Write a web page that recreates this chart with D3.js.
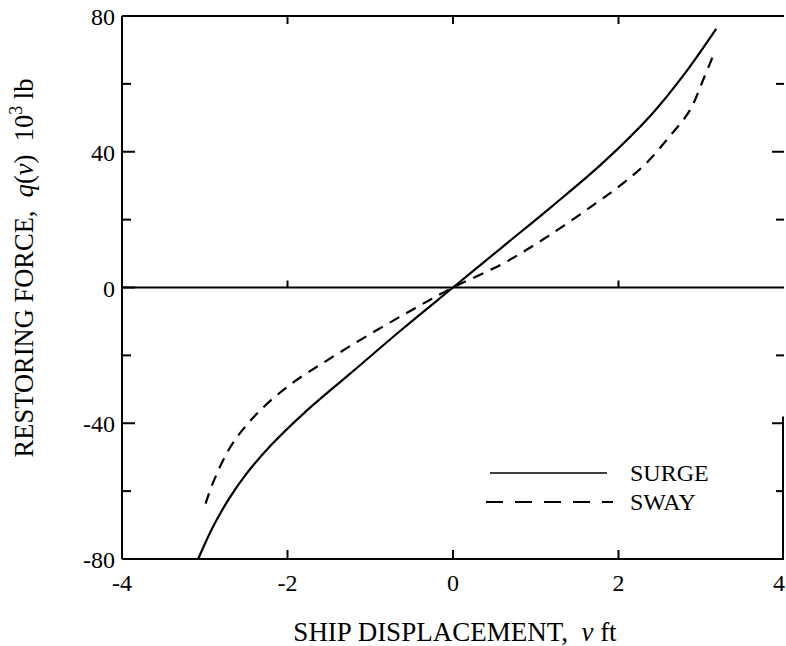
<!DOCTYPE html>
<html>
<head>
<meta charset="utf-8">
<script src="https://cdn.jsdelivr.net/npm/d3@7"></script>
<style>
  body { margin: 0; background: #fff; }
  svg text { font-family: "Liberation Serif", "DejaVu Serif", serif; fill: #000; }
</style>
</head>
<body>
<div id="content"></div>
<script>
var width = 786;
var height = 646;

// values
var xTicks = [-4, -2, 0, 2, 4];
var yTicks = [-80, -40, 0, 40, 80];
var yMinor = [-60, -20, 20, 60];

var surgeV = [-3.08, -2.9, -2.7, -2.5, -2.2, -1.8, -1.2, -0.6, 0.0, 0.6, 1.2, 1.8, 2.4, 2.8, 3.18];
var surgeQ = [-80, -70.5, -62, -55, -46.5, -37, -24.5, -12, 0, 12, 24, 36.5, 51, 63, 76.2];

var swayV = [-2.99, -2.90, -2.69, -2.41, -2.01, -1.53, -1.0, -0.48, 0.0, 0.60, 1.16, 1.72, 2.05, 2.33, 2.61, 2.86, 3.02, 3.16];
var swayQ = [-63.7, -57.5, -47, -38.2, -29.4, -21.6, -13.7, -6.4, 0, 7, 15.3, 24.7, 30.6, 36.5, 44.3, 52.1, 61, 69.3];

var legendNames = ['SURGE', 'SWAY'];

var margin = {left: 122, right: 2, top: 16, bottom: 87};

var x = d3.scaleLinear().domain([-4, 4]).range([margin.left, width - margin.right]);
var y = d3.scaleLinear().domain([-80, 80]).range([height - margin.bottom, margin.top]);

var svg = d3.select('div#content').append('svg')
    .attr('width', width)
    .attr('height', height);

var frame = svg.append('g')
    .attr('stroke', '#000')
    .attr('stroke-width', 2)
    .attr('fill', 'none');

// left, bottom, top frame lines + zero line
frame.append('line').attr('x1', x(-4)).attr('x2', x(-4)).attr('y1', y(-80)).attr('y2', y(80));
frame.append('line').attr('x1', x(-4)).attr('x2', x(4)).attr('y1', y(-80)).attr('y2', y(-80));
frame.append('line').attr('x1', x(-4)).attr('x2', x(4)).attr('y1', y(80)).attr('y2', y(80));
frame.append('line').attr('x1', x(-4)).attr('x2', x(4)).attr('y1', y(0)).attr('y2', y(0));
// right edge only shows on lower part of the scan
frame.append('line').attr('x1', x(4) - 1).attr('x2', x(4) - 1).attr('y1', y(-80)).attr('y2', y(-38));

// left axis ticks (inward)
frame.selectAll('.ly').data(yTicks.concat(yMinor)).enter()
    .append('line')
    .attr('x1', x(-4)).attr('x2', function(d){ return x(-4) + (yTicks.indexOf(d) >= 0 ? 13 : 9); })
    .attr('y1', function(d){ return y(d); }).attr('y2', function(d){ return y(d); });

// right axis ticks (inward)
frame.selectAll('.ry').data([60, 40, 20, -20, -40, -60]).enter()
    .append('line')
    .attr('x1', x(4)).attr('x2', function(d){ return x(4) - (yTicks.indexOf(d) >= 0 ? 12 : 8); })
    .attr('y1', function(d){ return y(d); }).attr('y2', function(d){ return y(d); });

// bottom, top and zero line ticks
[-2, 0, 2].forEach(function(d){
    frame.append('line').attr('x1', x(d)).attr('x2', x(d)).attr('y1', y(-80)).attr('y2', y(-80) - 9);
    frame.append('line').attr('x1', x(d)).attr('x2', x(d)).attr('y1', y(80)).attr('y2', y(80) + 8);
    if (d !== 0) {
        frame.append('line').attr('x1', x(d)).attr('x2', x(d)).attr('y1', y(0)).attr('y2', y(0) - 7);
    }
});

// tick labels
svg.selectAll('.xl').data(xTicks).enter()
    .append('text')
    .attr('x', function(d){ return x(d) + (d === 4 ? -5 : 0); })
    .attr('y', 591)
    .attr('text-anchor', 'middle')
    .attr('font-size', 24)
    .text(function(d){ return d; });

svg.selectAll('.yl').data(yTicks).enter()
    .append('text')
    .attr('x', x(-4) - 7)
    .attr('y', function(d){ return y(d) + 9; })
    .attr('text-anchor', 'end')
    .attr('font-size', 24)
    .text(function(d){ return d; });

// axis titles (non-breaking spaces keep the wide gaps)
var xt = svg.append('text')
    .attr('x', 455)
    .attr('y', 641)
    .attr('text-anchor', 'middle')
    .attr('font-size', 27);
xt.append('tspan').text('SHIP DISPLACEMENT,\u00a0\u00a0');
xt.append('tspan').attr('font-style', 'italic').text('v');
xt.append('tspan').text('\u00a0ft');

var yt = svg.append('text')
    .attr('transform', 'translate(33,' + 268 + ') rotate(-90)')
    .attr('text-anchor', 'middle')
    .attr('font-size', 26.5);
yt.append('tspan').text('RESTORING FORCE,\u00a0\u00a0');
yt.append('tspan').attr('font-style', 'italic').text('q');
yt.append('tspan').text('(');
yt.append('tspan').attr('font-style', 'italic').text('v');
yt.append('tspan').text(')\u00a0\u00a010');
yt.append('tspan').attr('font-size', 18).attr('dy', -11).text('3');
yt.append('tspan').attr('dy', 11).text('\u00a0lb');

// curves
var line = d3.line()
    .x(function(d){ return x(d[0]); })
    .y(function(d){ return y(d[1]); })
    .curve(d3.curveCatmullRom.alpha(0.5));

var surge = surgeV.map(function(v, i){ return [v, surgeQ[i]]; });
var sway = swayV.map(function(v, i){ return [v, swayQ[i]]; });

svg.append('path')
    .datum(surge)
    .attr('d', line)
    .attr('fill', 'none')
    .attr('stroke', '#000')
    .attr('stroke-width', 2.2);

svg.append('path')
    .datum(sway)
    .attr('d', line)
    .attr('fill', 'none')
    .attr('stroke', '#000')
    .attr('stroke-width', 2.2)
    .attr('stroke-dasharray', '11,8');

// legend
var legend = svg.append('g');
legend.append('line')
    .attr('x1', 490).attr('x2', 607).attr('y1', 473).attr('y2', 473)
    .attr('stroke', '#000').attr('stroke-width', 1.6);
legend.append('line')
    .attr('x1', 486).attr('x2', 613).attr('y1', 502).attr('y2', 502)
    .attr('stroke', '#000').attr('stroke-width', 1.8)
    .attr('stroke-dasharray', '17,12');
legend.selectAll('text').data(legendNames).enter()
    .append('text')
    .attr('x', 630)
    .attr('y', function(d, i){ return 481 + i * 29; })
    .attr('font-size', 24)
    .text(function(d){ return d; });
</script>
</body>
</html>
